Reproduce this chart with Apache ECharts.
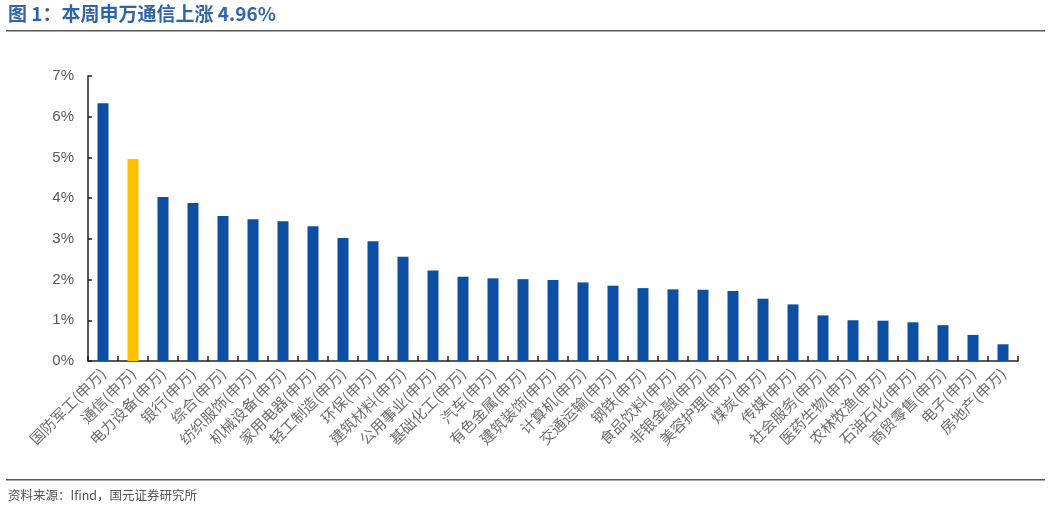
<!DOCTYPE html>
<html><head><meta charset="utf-8">
<script src="https://cdn.jsdelivr.net/npm/echarts@6/dist/echarts.min.js"></script>
<style>html,body{margin:0;padding:0;background:#fff}#c{width:1051px;height:509px}</style>
</head><body><div id="c"></div>
<script>
const categories = ['国防军工(申万)','通信(申万)','电力设备(申万)','银行(申万)','综合(申万)','纺织服饰(申万)','机械设备(申万)','家用电器(申万)','轻工制造(申万)','环保(申万)','建筑材料(申万)','公用事业(申万)','基础化工(申万)','汽车(申万)','有色金属(申万)','建筑装饰(申万)','计算机(申万)','交通运输(申万)','钢铁(申万)','食品饮料(申万)','非银金融(申万)','美容护理(申万)','煤炭(申万)','传媒(申万)','社会服务(申万)','医药生物(申万)','农林牧渔(申万)','石油石化(申万)','商贸零售(申万)','电子(申万)','房地产(申万)'];
const values = [6.33,4.96,4.03,3.88,3.56,3.48,3.43,3.31,3.02,2.94,2.56,2.22,2.07,2.03,2.01,1.99,1.93,1.85,1.79,1.76,1.75,1.72,1.53,1.39,1.12,1.00,0.99,0.95,0.88,0.64,0.41];
const highlight = '通信(申万)';
const yTicks = [0,1,2,3,4,5,6,7];

const chart = echarts.init(document.getElementById('c'));
chart.setOption({
  animation:false,
  grid:{left:88,right:33,top:76,bottom:148,containLabel:false},
  graphic:[
    {type:'text',left:8,top:4,style:{text:'图 1：本周申万通信上涨 4.96%',font:'bold 19px "Noto Sans CJK SC", sans-serif',fill:'#2F63AE'}},
    {type:'rect',shape:{x:6,y:30,width:1039,height:1.5},style:{fill:'#555'}},
    {type:'rect',shape:{x:6,y:479,width:1039,height:1.5},style:{fill:'#555'}},
    {type:'text',left:8,top:489,style:{text:'资料来源：Ifind，国元证券研究所',font:'12.5px "Noto Sans CJK SC", sans-serif',fill:'#555'}}
  ],
  xAxis:{type:'category',data:categories,
    axisLine:{lineStyle:{color:'#222',width:1.5}},
    axisTick:{show:true,inside:true,length:5,alignWithLabel:false,lineStyle:{color:'#222',width:1.5}},
    axisLabel:{rotate:45,interval:0,color:'#707070',fontSize:15,fontFamily:'"Noto Sans CJK SC", sans-serif',margin:10}
  },
  yAxis:{type:'value',min:0,max:7,interval:1,
    splitLine:{show:false},
    axisLine:{show:true,lineStyle:{color:'#222',width:1.5}},
    axisTick:{show:true,inside:true,length:4,lineStyle:{color:'#222',width:1.5}},
    axisLabel:{formatter:'{value}%',color:'#595959',fontSize:15,fontFamily:'"Liberation Sans", Arial, sans-serif',margin:14}
  },
  series:[{type:'bar',barWidth:11,
    data:values.map((v,i)=>({value:v,itemStyle:{color:categories[i]===highlight?'#FFC000':'#0B4EA2'}}))
  }]
});
</script></body></html>
